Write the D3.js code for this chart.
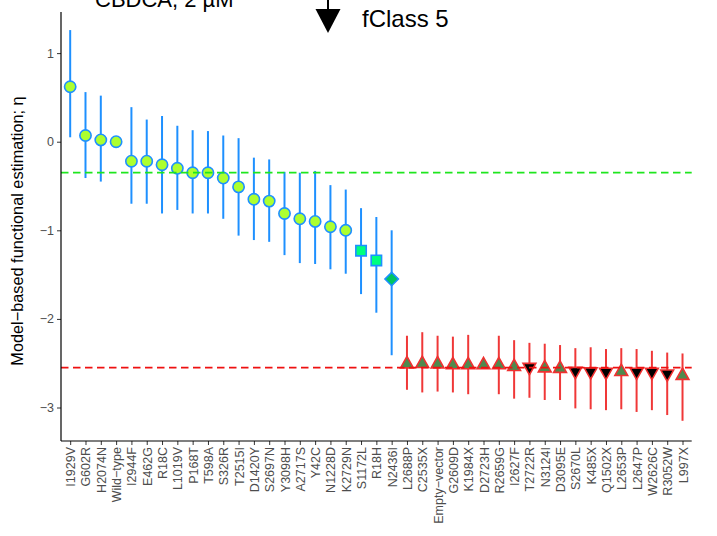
<!DOCTYPE html>
<html>
<head>
<meta charset="utf-8">
<script src="https://cdn.jsdelivr.net/npm/d3@7"></script>
<style>
  html, body { margin: 0; padding: 0; background: #fff; }
  svg { display: block; font-family: "Liberation Sans", Arial, sans-serif; }
</style>
</head>
<body>
<svg id="chart" width="717" height="536"></svg>
<script>
// Variants ordered by estimated function (η) under CBDCA, 2 µM
const variants = ["I1929V","G602R","H2074N","Wild−type","I2944F","E462G","R18C","L1019V","P168T","T598A",
  "S326R","T2515I","D1420Y","S2697N","Y3098H","A2717S","Y42C","N1228D","K2729N","S1172L",
  "R18H","N2436I","L2688P","C2535X","Empty−vector","G2609D","K1984X","D2723H","R2659G","I2627F",
  "T2722R","N3124I","D3095E","S2670L","K485X","Q1502X","L2653P","L2647P","W2626C","R3052W","L997X"];

// Point estimates of η
const eta = [0.62,0.07,0.02,0,-0.22,-0.22,-0.26,-0.30,-0.35,-0.35,
  -0.41,-0.51,-0.65,-0.67,-0.81,-0.87,-0.90,-0.96,-1.00,-1.23,
  -1.34,-1.55,-2.51,-2.505,-2.51,-2.52,-2.52,-2.52,-2.52,-2.54,
  -2.545,-2.555,-2.56,-2.59,-2.595,-2.60,-2.595,-2.60,-2.60,-2.62,-2.64];

// Interval bounds
const lower = [0.05,-0.41,-0.45,0,-0.70,-0.70,-0.81,-0.77,-0.81,-0.81,
  -0.87,-1.06,-1.11,-1.13,-1.28,-1.37,-1.38,-1.44,-1.49,-1.72,
  -1.93,-2.41,-2.80,-2.83,-2.82,-2.83,-2.85,-2.52,-2.85,-2.90,
  -2.89,-2.915,-2.915,-3.01,-3.02,-3.03,-3.02,-3.05,-3.03,-3.085,-3.15];
const upper = [1.26,0.56,0.52,0,0.39,0.25,0.29,0.18,0.13,0.12,
  0.07,0.04,-0.18,-0.20,-0.34,-0.35,-0.33,-0.49,-0.54,-0.75,
  -0.85,-1.00,-2.19,-2.15,-2.19,-2.20,-2.18,-2.52,-2.19,-2.24,
  -2.27,-2.28,-2.295,-2.33,-2.32,-2.34,-2.33,-2.34,-2.36,-2.38,-2.39];

// Functional class of each variant (1–5)
const fClass = [1,1,1,1,1,1,1,1,1,1, 1,1,1,1,1,1,1,1,1,2, 2,3,4,4,4,4,4,4,4,4,
  5,4,4,5,5,5,4,5,5,5,4];

// Reference thresholds
const thresholds = [-0.35, -2.55];
const thresholdColors = ["#1EE61E", "#EE1111"];

const yTicks = [1, 0, -1, -2, -3];

// Styles per class
const classStyle = {
  1: {shape: "circle",   fill: "#ADFF2F", stroke: "#1E90FF", bar: "#1E90FF"},
  2: {shape: "square",   fill: "#00FF7F", stroke: "#1E90FF", bar: "#1E90FF"},
  3: {shape: "diamond",  fill: "#00C462", stroke: "#1E90FF", bar: "#1E90FF"},
  4: {shape: "triUp",    fill: "#4E8A4E", stroke: "#F03030", bar: "#F03838"},
  5: {shape: "triDown",  fill: "#000000", stroke: "#F03030", bar: "#F03838"}
};

const svg = d3.select("#chart");
const plotLeft = 61, plotRight = 691.7, plotTop = 12, plotBottom = 441;

const x = d3.scalePoint().domain(variants).range([plotLeft, plotRight]).padding(0.6);
const y = d3.scaleLinear().domain([-3.378, 1.464]).range([plotBottom, plotTop]);

const rows = variants.map((v, i) => ({v, eta: eta[i], lo: lower[i], hi: upper[i], c: fClass[i]}));

function markerPath(shape) {
  switch (shape) {
    case "circle": return d3.symbol(d3.symbolCircle, 100)();
    case "square": return "M-5.2,-5.2H5.2V5.2H-5.2Z";
    case "diamond": return "M0,-6.7L6.7,0L0,6.7L-6.7,0Z";
    case "triUp": return "M0,-7.6L6.4,3.8L-6.4,3.8Z";
    case "triDown": return "M0,7.6L6.4,-3.8L-6.4,-3.8Z";
  }
}

// Intervals and points
const g = svg.append("g");
rows.forEach(d => {
  const st = classStyle[d.c];
  if (d.hi > d.lo) {
    g.append("line")
      .attr("x1", x(d.v)).attr("x2", x(d.v))
      .attr("y1", y(d.hi)).attr("y2", y(d.lo))
      .attr("stroke", st.bar).attr("stroke-width", 2);
  }
  g.append("path")
    .attr("d", markerPath(st.shape))
    .attr("transform", `translate(${x(d.v)},${y(d.eta)})`)
    .attr("fill", st.fill).attr("stroke", st.stroke).attr("stroke-width", 1.6);
});

// Threshold lines
thresholds.forEach((t, i) => {
  svg.append("line")
    .attr("x1", plotLeft).attr("x2", plotRight)
    .attr("y1", y(t)).attr("y2", y(t))
    .attr("stroke", thresholdColors[i]).attr("stroke-width", 1.8)
    .attr("stroke-dasharray", "7.5,4.5");
});

// Axes
const yAxis = d3.axisLeft(y).tickValues(yTicks).tickSize(4).tickPadding(3)
  .tickFormat(d => d < 0 ? "−" + Math.abs(d) : String(d));
const ya = svg.append("g").attr("transform", `translate(${plotLeft},0)`).call(yAxis);
ya.select(".domain").remove();
ya.selectAll(".tick line").attr("stroke", "#333").attr("stroke-width", 1);
ya.selectAll(".tick text").attr("fill", "#4D4D4D").style("font-size", "12.5px")
  .style("font-family", "Liberation Sans, Arial, sans-serif");

const xAxis = d3.axisBottom(x).tickSize(4).tickPadding(3);
const xa = svg.append("g").attr("transform", `translate(0,${plotBottom})`).call(xAxis);
xa.select(".domain").remove();
xa.selectAll(".tick line").attr("stroke", "#333").attr("stroke-width", 1);
xa.selectAll(".tick text")
  .attr("fill", "#4D4D4D").style("font-size", "12.5px")
  .style("font-family", "Liberation Sans, Arial, sans-serif")
  .attr("transform", "rotate(-90)")
  .attr("text-anchor", "end")
  .attr("x", -6).attr("y", 0).attr("dy", "0.36em");

// Axis lines
svg.append("line").attr("x1", plotLeft).attr("x2", plotLeft).attr("y1", plotTop).attr("y2", plotBottom)
  .attr("stroke", "#000").attr("stroke-width", 1.2);
svg.append("line").attr("x1", plotLeft).attr("x2", plotRight).attr("y1", plotBottom).attr("y2", plotBottom)
  .attr("stroke", "#000").attr("stroke-width", 1.2);

// Y axis title
svg.append("text")
  .attr("transform", `translate(23,231) rotate(-90)`)
  .attr("text-anchor", "middle")
  .style("font-size", "16.3px")
  .attr("fill", "#000")
  .text("Model−based functional estimation; η");

// Plot title
svg.append("text")
  .attr("x", 95).attr("y", 7)
  .style("font-size", "22px").attr("fill", "#000")
  .text("CBDCA, 2 µM");

// Legend entry for class 5
const lg = svg.append("g").attr("transform", "translate(328,17)");
lg.append("line").attr("x1", 0).attr("x2", 0).attr("y1", -20).attr("y2", 0)
  .attr("stroke", "#000").attr("stroke-width", 2);
lg.append("path").attr("d", "M0,16L12.5,-8L-12.5,-8Z").attr("fill", "#000");
svg.append("text").attr("x", 362).attr("y", 27)
  .style("font-size", "24px").attr("fill", "#000").text("fClass 5");
</script>
</body>
</html>
